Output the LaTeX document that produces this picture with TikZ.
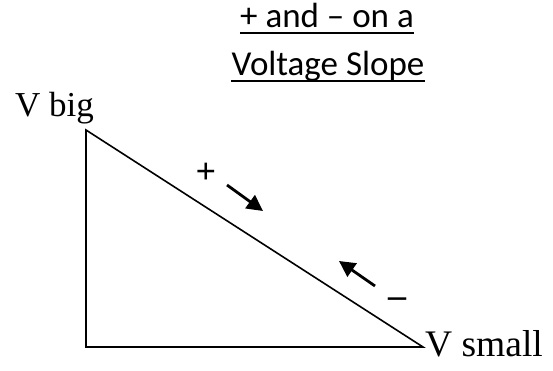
\documentclass[tikz,border=0pt]{standalone}
\usepackage{fontspec}
\setmainfont{Liberation Serif}
\newfontfamily\titlefont{Carlito}
\usetikzlibrary{arrows.meta}
\tikzset{
  edge/.style={line width=1.6pt, line join=miter},
  lbl/.style={inner sep=0pt, font=\fontsize{35}{42}\selectfont},
  sign/.style={inner sep=0pt, font=\bfseries\fontsize{36}{42}\selectfont},
  ttl/.style={inner sep=0pt, font=\titlefont\fontsize{35}{42}\selectfont},
  uline/.style={line width=1.8pt},
  flow/.style={line width=2.8pt, -{Triangle[length=16pt,width=16pt]}}
}
\begin{document}
\begin{tikzpicture}[x=1pt,y=1pt]
\useasboundingbox (0,0) rectangle (553,370);
% title
\node[ttl, anchor=base] (t1) at (327,342) {+ and – on a};
\node[ttl, anchor=base] (t2) at (328,294) {Voltage Slope};
\draw[uline] ([yshift=-5pt]t1.base west) -- ([yshift=-5pt]t1.base east);
\draw[uline] ([yshift=-5pt]t2.base west) -- ([yshift=-5pt]t2.base east);
% triangle
\coordinate (A) at (86,240);
\coordinate (B) at (86,23);
\coordinate (C) at (423,23);
\draw[edge] (A) -- (B) -- (C) -- cycle;
% labels
\node[lbl, anchor=base west] (vbig) at (15,253) {V big};
\node[lbl, anchor=base west, font=\fontsize{37.5}{42}\selectfont] (vsmall) at (425,14) {V small};
\node[sign, anchor=base] (plus) at (206,187) {+};
\node[sign, anchor=base] (minus) at (397,63) {–};
% arrows
\coordinate (p1) at (227,185);
\coordinate (p2) at (263,159);
\coordinate (m1) at (375,84);
\coordinate (m2) at (339,109);
\draw[flow] (p1) -- (p2);
\draw[flow] (m1) -- (m2);
\end{tikzpicture}
\end{document}
